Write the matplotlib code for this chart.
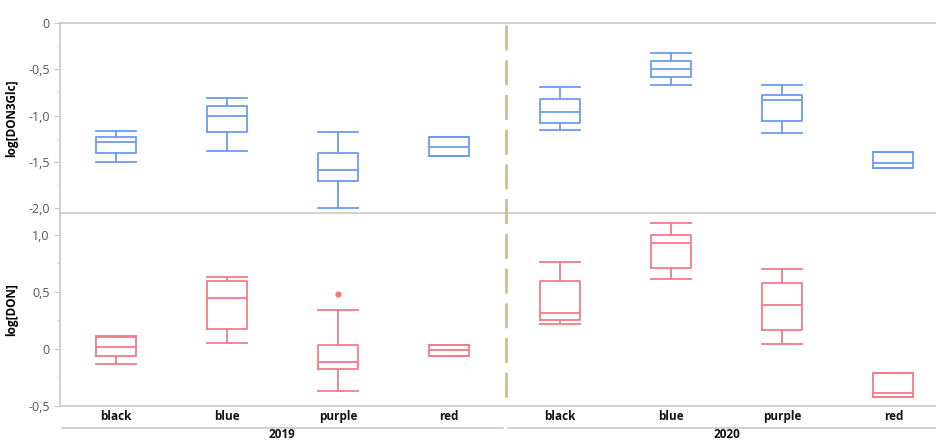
import matplotlib.pyplot as plt
from matplotlib.lines import Line2D

categories = ['black', 'blue', 'purple', 'red']
years = ['2019', '2020']

# five-number summaries per group: (whislo, q1, med, q3, whishi)
don3glc = [
    (-1.50, -1.40, -1.29, -1.235, -1.165),   # 2019 black
    (-1.385, -1.18, -1.005, -0.898, -0.815),  # 2019 blue
    (-2.00, -1.70, -1.587, -1.408, -1.18),    # 2019 purple
    (-1.433, -1.433, -1.336, -1.228, -1.228), # 2019 red
    (-1.156, -1.078, -0.966, -0.819, -0.69),  # 2020 black
    (-0.671, -0.588, -0.502, -0.413, -0.323), # 2020 blue
    (-1.192, -1.056, -0.833, -0.779, -0.671), # 2020 purple
    (-1.569, -1.569, -1.509, -1.39, -1.39),   # 2020 red
]
don3glc_out = [[], [], [], [], [], [], [], []]

don = [
    (-0.135, -0.06, 0.019, 0.107, 0.113),    # 2019 black
    (0.052, 0.172, 0.443, 0.597, 0.632),     # 2019 blue
    (-0.371, -0.173, -0.115, 0.032, 0.341),  # 2019 purple
    (-0.06, -0.06, -0.012, 0.037, 0.037),    # 2019 red
    (0.218, 0.253, 0.314, 0.597, 0.761),     # 2020 black
    (0.612, 0.708, 0.930, 0.995, 1.099),     # 2020 blue
    (0.04, 0.163, 0.387, 0.574, 0.70),       # 2020 purple
    (-0.421, -0.421, -0.384, -0.208, -0.208),# 2020 red
]
don_out = [[], [], [0.478], [], [], [], [], []]

BLUE = '#6b9cf0'
RED = '#f57a88'
GREY = '#c8c8c8'
W, H = 937, 442

fig = plt.figure(figsize=(W / 100, H / 100), dpi=100)
plt.rcParams['font.family'] = ['Open Sans', 'DejaVu Sans']


def frac_y(py):
    return 1 - py / H


ax_top = fig.add_axes([60 / W, frac_y(213), 1 - 60 / W, (213 - 22.7) / H])
ax_bot = fig.add_axes([60 / W, frac_y(406), 1 - 60 / W, (406 - 213.5) / H])


def draw(ax, summaries, outliers, color):
    stats = []
    for (lo, q1, med, q3, hi), fl in zip(summaries, outliers):
        stats.append(dict(whislo=lo, q1=q1, med=med, q3=q3, whishi=hi, fliers=fl))
    line = dict(color=color, linewidth=1.3)
    ax.bxp(stats, positions=range(len(stats)), widths=0.36, capwidths=0.36,
           boxprops=line, whiskerprops=line, capprops=line, medianprops=line,
           flierprops=dict(marker='o', markersize=3.5, markerfacecolor=color,
                           markeredgecolor=color),
           manage_ticks=False)
    ax.set_xlim(-0.5, 7.5 - 12 / 111)
    ax.spines['right'].set_visible(False)
    for side in ('left', 'top', 'bottom'):
        ax.spines[side].set_color(GREY)
        ax.spines[side].set_linewidth(1.2)
    ax.tick_params(axis='y', colors='#555555', labelsize=9, length=4,
                   width=0.8, color=GREY)
    ax.tick_params(axis='y', which='minor', length=2.5, width=0.6, color=GREY)
    ax.set_xticks([])


draw(ax_top, don3glc, don3glc_out, BLUE)
ax_top.set_ylim(-2.05, 0)
ax_top.set_yticks([0, -0.5, -1.0, -1.5, -2.0])
ax_top.set_yticklabels(['0', '-0,5', '-1,0', '-1,5', '-2,0'])
ax_top.set_yticks([-0.25, -0.75, -1.25, -1.75], minor=True)
ax_top.set_ylabel('log[DON3Glc]', fontweight='bold', fontsize=8.5)

draw(ax_bot, don, don_out, RED)
ax_bot.set_ylim(-0.5, 1.186)
ax_bot.spines['top'].set_visible(False)
ax_bot.set_yticks([1.0, 0.5, 0, -0.5])
ax_bot.set_yticklabels(['1,0', '0,5', '0', '-0,5'])
ax_bot.set_yticks([0.75, 0.25, -0.25], minor=True)
ax_bot.set_ylabel('log[DON]', fontweight='bold', fontsize=8.5)
ax_top.yaxis.set_label_coords(-42 / (W - 60), 0.5)
ax_bot.yaxis.set_label_coords(-42 / (W - 60), 0.5)

# category labels under the bottom panel
for i in range(8):
    ax_bot.text(i, -0.5 - 10.5 / 114, categories[i % 4], ha='center', va='center',
                fontsize=8.5, fontweight='bold', color='#111111')

# year group brackets
x_div = 505.7
fig.add_artist(Line2D([62 / W, (x_div - 2.5) / W], [frac_y(428)] * 2,
                      color=GREY, linewidth=1.2))
fig.add_artist(Line2D([(x_div + 2.5) / W, 1], [frac_y(428)] * 2,
                      color=GREY, linewidth=1.2))
fig.text(282 / W, frac_y(441), years[0], ha='center', va='bottom',
         fontsize=8.5, fontweight='bold', color='#111111')
fig.text(727 / W, frac_y(441), years[1], ha='center', va='bottom',
         fontsize=8.5, fontweight='bold', color='#111111')

# dashed separator between years
fig.add_artist(Line2D([x_div / W] * 2, [frac_y(25), frac_y(402)],
                      color='#c9c096', linewidth=2, linestyle=(0, (9, 3.5))))

fig.savefig('out.png', dpi=100, facecolor='white')
